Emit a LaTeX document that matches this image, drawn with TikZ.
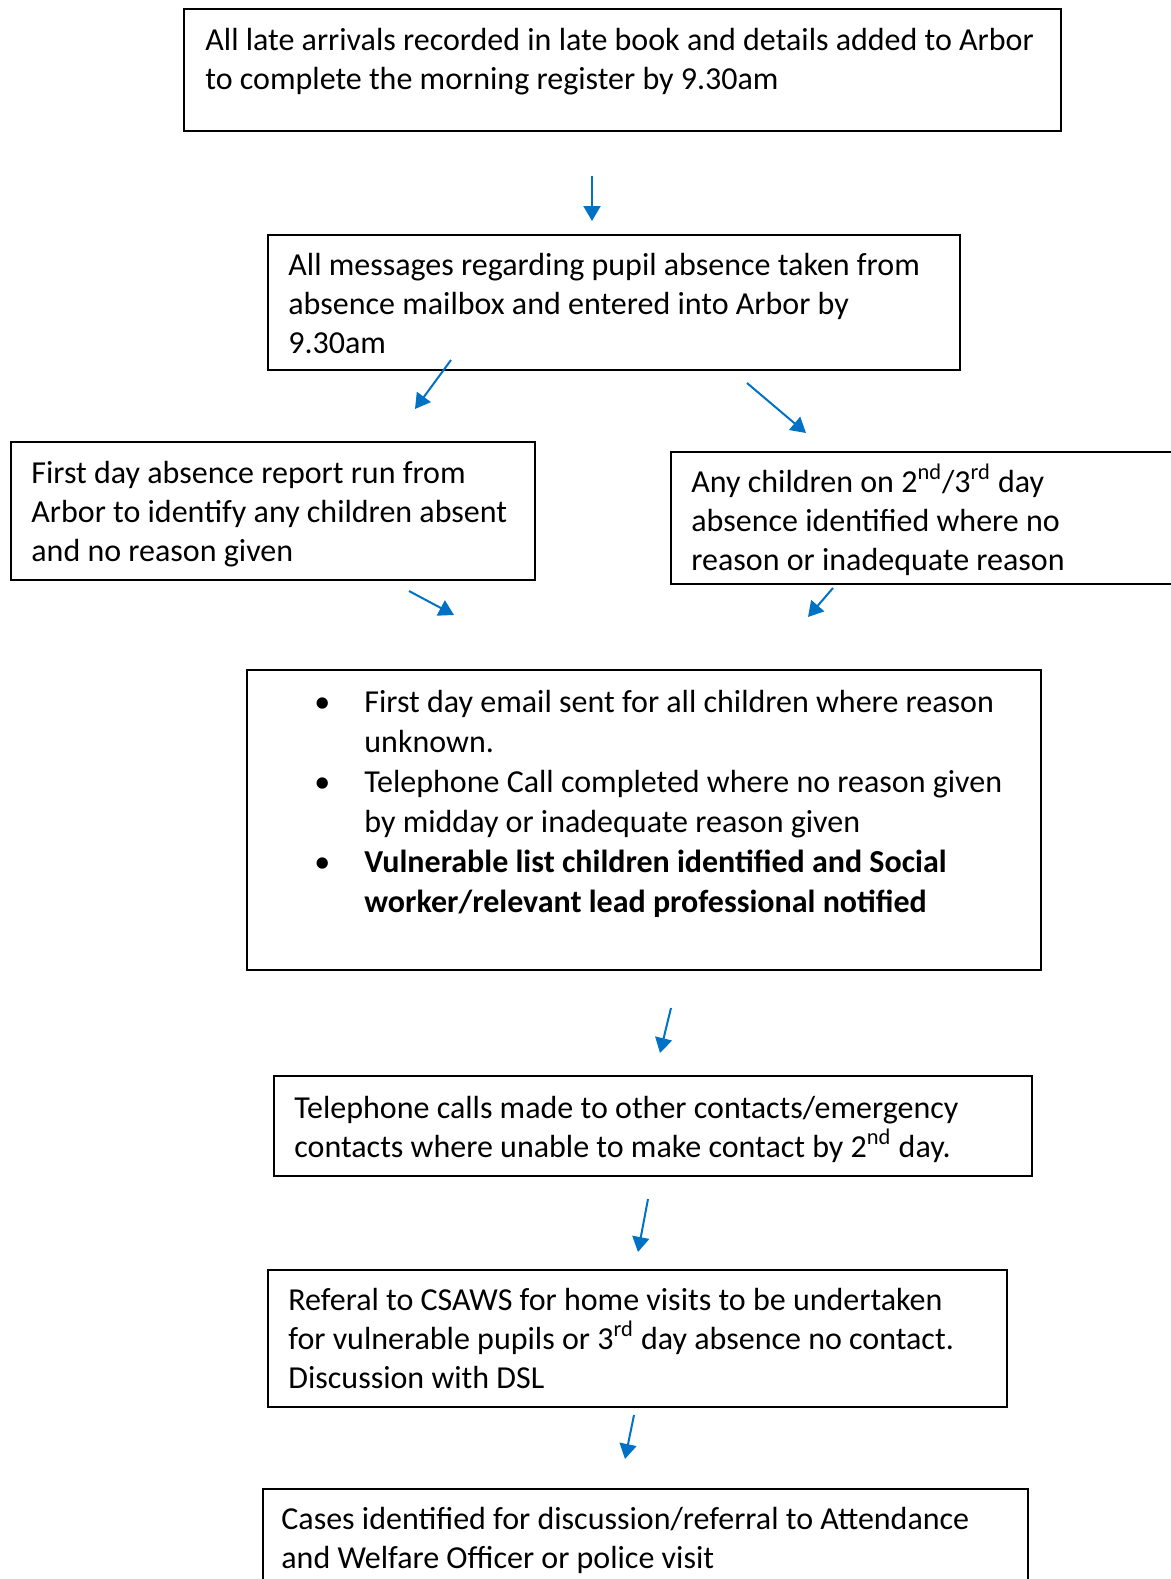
\documentclass[tikz,border=0pt]{standalone}
\usepackage{fontspec}
\setmainfont{Carlito}
\usetikzlibrary{arrows.meta}
\definecolor{arrowblue}{RGB}{0,114,198}
\tikzset{
  box/.style={draw=black, line width=1.2pt, rectangle, inner sep=0pt, anchor=north west, fill=none},
  txt/.style={inner sep=0pt, anchor=north west, align=left, font=\fontsize{16}{19.5}\selectfont},
  arr/.style={draw=arrowblue, line width=1pt, -{Triangle[length=7.5pt,width=8.5pt]}},
}
\newcommand{\bulitem}{\llap{\makebox[0pt][c]{\textbullet}\hspace{21pt}}}
\newcommand{\mysup}[1]{\smash{\textsuperscript{#1}}}
\begin{document}
\begin{tikzpicture}[x=0.5pt,y=-0.5pt]
\useasboundingbox (0,0) rectangle (1171,1579);
\clip (0,0) rectangle (1171,1579);
% boxes
\node[box, minimum width=438.5pt, minimum height=61pt] (b1) at (183,8) {};
\node[box, minimum width=346pt, minimum height=67.5pt] (b2) at (267,234) {};
\node[box, minimum width=262pt, minimum height=69pt] (b3) at (10,441) {};
\node[box, minimum width=257.5pt, minimum height=66pt] (b4) at (670,451) {};
\node[box, minimum width=397pt, minimum height=150pt] (b5) at (246,669) {};
\node[box, minimum width=379pt, minimum height=50pt] (b6) at (273,1075) {};
\node[box, minimum width=369.5pt, minimum height=68.5pt] (b7) at (267,1269) {};
\node[box, minimum width=382.5pt, minimum height=56pt] (b8) at (262,1488) {};
% texts
\node[txt] (t1) at (205,50-27.3) {\strut All late arrivals recorded in late book and details added to Arbor\\to complete the morning register by 9.30am};
\node[txt] (t2) at (288,275-27.3) {\strut All messages regarding pupil absence taken from\\absence mailbox and entered into Arbor by\\9.30am};
\node[txt] (t3) at (31,483-27.3) {\strut First day absence report run from\\Arbor to identify any children absent\\and no reason given};
\node[txt] (t4) at (691,492-27.3) {\strut Any children on 2\mysup{nd}/3\mysup{rd} day\\absence identified where no\\reason or inadequate reason};
\node[txt, font=\fontsize{16}{20}\selectfont] (t5) at (364,712-28) {\strut\bulitem First day email sent for all children where reason\\unknown.\\\bulitem Telephone Call completed where no reason given\\by midday or inadequate reason given\\\bulitem\textbf{Vulnerable list children identified and Social}\\\textbf{worker/relevant lead professional notified}};
\node[txt] (t6) at (294,1118-27.3) {\strut Telephone calls made to other contacts/emergency\\contacts where unable to make contact by 2\mysup{nd} day.};
\node[txt] (t7) at (288,1310-27.3) {\strut Referal to CSAWS for home visits to be undertaken\\for vulnerable pupils or 3\mysup{rd} day absence no contact.\\Discussion with DSL};
\node[txt] (t8) at (281,1529-27.3) {\strut Cases identified for discussion/referral to Attendance\\and Welfare Officer or police visit};
% arrow end points
\coordinate (a1s) at (592,176); \coordinate (a1e) at (592,221);
\coordinate (a2s) at (451,360); \coordinate (a2e) at (415,409);
\coordinate (a3s) at (747,383); \coordinate (a3e) at (806,433);
\coordinate (a5s) at (409,591); \coordinate (a5e) at (454,615);
\coordinate (a6s) at (833,588); \coordinate (a6e) at (808,617);
\coordinate (a7s) at (671,1008); \coordinate (a7e) at (660,1053);
\coordinate (a8s) at (648,1199); \coordinate (a8e) at (638,1252);
\coordinate (a9s) at (634,1415); \coordinate (a9e) at (625,1459);
\draw[arr] (a1s) -- (a1e);
\draw[arr] (a2s) -- (a2e);
\draw[arr] (a3s) -- (a3e);
\draw[arr] (a5s) -- (a5e);
\draw[arr] (a6s) -- (a6e);
\draw[arr] (a7s) -- (a7e);
\draw[arr] (a8s) -- (a8e);
\draw[arr] (a9s) -- (a9e);
\end{tikzpicture}
\end{document}
